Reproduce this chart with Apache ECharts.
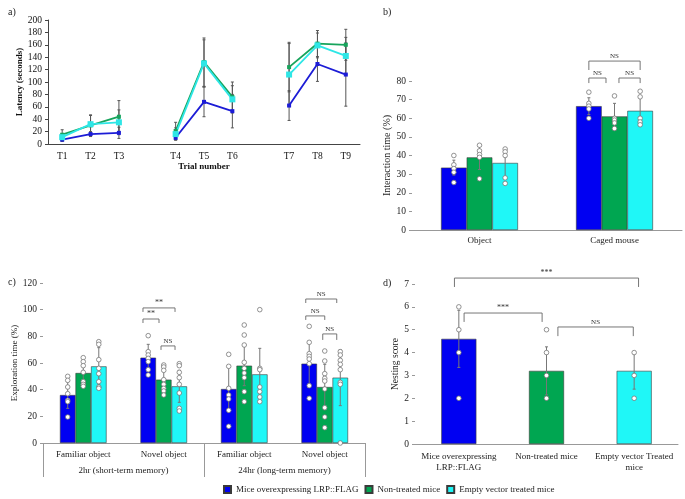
<!DOCTYPE html>
<html>
<head>
<meta charset="utf-8">
<script src="https://cdn.jsdelivr.net/npm/echarts@6/dist/echarts.min.js"></script>
<style>html,body{margin:0;padding:0;background:#fff}#main{width:685px;height:499px}</style>
</head>
<body>
<div id="main"></div>
<script>
var FONT = '"Liberation Serif", "Times New Roman", serif';
var groups = ['Mice overexpressing LRP::FLAG', 'Non-treated mice', 'Empty vector treated mice'];
var barColors = ['#0000f2', '#00a651', '#1ff7f7'];
var lineColors = ['#1c1cd6', '#17a45c', '#2ee6e6'];

// a) latency per trial ('-' = gap between the sessions)
var trials = ['T1', 'T2', 'T3', '', 'T4', 'T5', 'T6', '', 'T7', 'T8', 'T9'];
var latBlue = [7, 16, 18, '-', 10, 68, 53, '-', 62, 129, 112];
var latGreen = [15, 30, 44, '-', 21, 132, 76, '-', 124, 162, 160];
var latCyan = [11, 32, 35, '-', 16, 130, 72, '-', 112, 159, 142];
var latSdBlue = [3, 4, 9, 0, 2, 24, 27, 0, 24, 28, 51];
var latSdGreen = [8, 17, 26, 0, 14, 39, 24, 0, 40, 21, 25];
var latSdCyan = [5, 14, 20, 0, 10, 38, 22, 0, 50, 20, 30];

// b) interaction time (%)
var bCats = ['Object', 'Caged mouse'];
var bBlue = [33.5, 66.5];
var bGreen = [39, 61];
var bCyan = [36, 64];
var bSdBlue = [4, 4.5];
var bSdGreen = [6.5, 7];
var bSdCyan = [7.5, 7];
var bDotsBlue = [[40, 35, 33, 31, 25.5], [74, 68, 66.5, 65, 60]];
var bDotsGreen = [[45.5, 42.5, 40.5, 39, 27.5], [72, 60, 59, 57.5, 54.5]];
var bDotsCyan = [[43.5, 42, 40, 28, 25], [74.5, 71.5, 60, 58, 56.5]];

// c) exploration time (%)
var cCats = ['Familiar object', 'Novel object', 'Familiar object', 'Novel object'];
var cSessions = ['2hr (short-term memory)', '24hr (long-term memory)'];
var cBlue = [36, 64, 40.5, 59.5];
var cGreen = [52.5, 47.5, 58, 42];
var cCyan = [57.5, 42.5, 51.5, 49];
var cSdBlue = [10, 10, 17, 16];
var cSdGreen = [8, 8, 15, 17];
var cSdCyan = [14, 12, 19.5, 21];
var cDotsBlue = [[50, 47, 42, 37, 32, 31, 19.5], [80.5, 68.5, 66, 63.5, 61, 55, 51],
  [66.5, 57.5, 41, 36, 33, 24.5, 12.5], [87.5, 75.5, 67, 65, 63, 59.5, 43, 33.5]];
var cDotsGreen = [[64, 61, 58, 53, 46, 44, 42.5], [58.5, 57, 54.5, 47.5, 44, 41, 39, 36],
  [88.5, 81, 73.5, 60.5, 56, 52.5, 49, 38.5, 31], [69, 61.5, 52, 48.5, 46.5, 40.5, 26.5, 19.5, 11.5]];
var cDotsCyan = [[76, 74, 62.5, 56, 52, 46, 42, 41], [59.5, 58, 53, 49, 44, 37.5, 26, 24],
  [100, 56, 55, 42, 38.5, 34.5, 31], [68.5, 66, 62, 59, 55, 45.5, 44, 0]];

// d) nesting score
var dCats = ['Mice overexpressing\nLRP::FLAG', 'Non-treated mice', 'Empty vector Treated\nmice'];
var dScore = [4.6, 3.2, 3.2];
var dSd = [1.25, 1.05, 0.8];
var dDots = [[6, 5, 4, 2], [5, 4, 3, 2], [4, 3, 2]];

// significance brackets: [cat1, shift1, cat2, shift2, top, legEnd, text] (shift in band widths)
var bBrackets = [
  [1, -0.19, 1, 0.19, 90.7, 85.9, 'NS'],
  [1, -0.19, 1, -0.063, 81.6, 78.9, 'NS'],
  [1, 0.033, 1, 0.19, 81.6, 78.9, 'NS']
];
var cBrackets = [
  [1, -0.258, 1, 0.14, 101.3, 98.3, '**'],
  [1, -0.258, 1, -0.059, 93, 90, '**'],
  [1, -0.034, 1, 0.14, 72.8, 69.8, 'NS'],
  [3, -0.236, 3, 0.149, 108, 105, 'NS'],
  [3, -0.236, 3, 0, 95.3, 92.3, 'NS'],
  [3, -0.025, 3, 0.149, 81.8, 77.3, 'NS']
];
var dBrackets = [
  [0, -0.05, 2, 0.05, 7.26, 6.87, '***'],
  [0, 0.06, 1, -0.05, 5.73, 5.34, '***'],
  [1, 0.13, 2, -0.01, 5.12, 4.72, 'NS']
];

function errData(means, sds) {
  var out = [];
  means.forEach(function (m, i) {
    if (m === '-') return;
    out.push([i, m - sds[i], m + sds[i]]);
  });
  return out;
}

function errSeries(xi, yi, means, sds, shift, color, cap) {
  return {
    type: 'custom', xAxisIndex: xi, yAxisIndex: yi, z: 4, silent: true,
    data: errData(means, sds),
    renderItem: function (params, api) {
      var band = api.size([1, 0])[0];
      var hi = api.coord([api.value(0), api.value(2)]);
      var lo = api.coord([api.value(0), api.value(1)]);
      var x = hi[0] + band * shift;
      var st = { stroke: color, lineWidth: 1 };
      return { type: 'group', children: [
        { type: 'line', shape: { x1: x, y1: hi[1], x2: x, y2: lo[1] }, style: st },
        { type: 'line', shape: { x1: x - cap, y1: hi[1], x2: x + cap, y2: hi[1] }, style: st },
        { type: 'line', shape: { x1: x - cap, y1: lo[1], x2: x + cap, y2: lo[1] }, style: st }
      ] };
    }
  };
}

function dotSeries(xi, yi, dots, shift) {
  var data = [];
  dots.forEach(function (list, i) {
    list.forEach(function (v) { data.push([i, v]); });
  });
  return {
    type: 'custom', xAxisIndex: xi, yAxisIndex: yi, z: 6, silent: true,
    data: data,
    renderItem: function (params, api) {
      var band = api.size([1, 0])[0];
      var p = api.coord([api.value(0), api.value(1)]);
      return { type: 'circle', shape: { cx: p[0] + band * shift, cy: p[1], r: 2.3 },
        style: { fill: '#fff', stroke: '#777', lineWidth: 0.8 } };
    }
  };
}

function bracketSeries(xi, yi, specs) {
  return {
    type: 'custom', xAxisIndex: xi, yAxisIndex: yi, z: 7, silent: true, clip: false,
    data: specs.map(function (s) { return [s[0], s[4]]; }),
    renderItem: function (params, api) {
      var s = specs[params.dataIndex];
      var band = api.size([1, 0])[0];
      var x1 = api.coord([s[0], s[4]])[0] + band * s[1];
      var x2 = api.coord([s[2], s[4]])[0] + band * s[3];
      var yt = api.coord([s[0], s[4]])[1];
      var yl = api.coord([s[0], s[5]])[1];
      var star = s[6] !== 'NS';
      return { type: 'group', children: [
        { type: 'polyline', shape: { points: [[x1, yl], [x1, yt], [x2, yt], [x2, yl]] },
          style: { stroke: '#666', lineWidth: 0.9, fill: null } },
        { type: 'text', style: { text: s[6], x: (x1 + x2) / 2, y: yt - (star ? 1 : 1.5),
          align: 'center', verticalAlign: 'bottom', fill: '#333',
          font: (star ? '8px ' : '7px ') + FONT } }
      ] };
    }
  };
}

function barSeries(name, xi, yi, data, color, width) {
  return {
    type: 'bar', name: name, xAxisIndex: xi, yAxisIndex: yi, data: data,
    barWidth: width, barGap: '0%', z: 2,
    itemStyle: { color: color, borderColor: '#3a3a3a', borderWidth: 0.6 }
  };
}

function lineSeries(name, data, color, size) {
  return {
    type: 'line', name: name, xAxisIndex: 0, yAxisIndex: 0, data: data,
    symbol: 'rect', symbolSize: size, connectNulls: false, z: 5,
    lineStyle: { color: color, width: 1.8 }, itemStyle: { color: color }
  };
}

var lab = { fontFamily: FONT, fontSize: 9, color: '#222' };
var num = { fontFamily: FONT, fontSize: 9.5, color: '#222' };
var grayLine = { lineStyle: { color: '#999', width: 1 } };

var series = [
  // b) bars first so the legend takes its icons from them
  barSeries(groups[0], 1, 1, bBlue, barColors[0], '19%'),
  barSeries(groups[1], 1, 1, bGreen, barColors[1], '19%'),
  barSeries(groups[2], 1, 1, bCyan, barColors[2], '19%'),
  errSeries(1, 1, bBlue, bSdBlue, -0.19, '#777', 1.5),
  errSeries(1, 1, bGreen, bSdGreen, 0, '#777', 1.5),
  errSeries(1, 1, bCyan, bSdCyan, 0.19, '#777', 1.5),
  dotSeries(1, 1, bDotsBlue, -0.19),
  dotSeries(1, 1, bDotsGreen, 0),
  dotSeries(1, 1, bDotsCyan, 0.19),
  bracketSeries(1, 1, bBrackets),

  // c)
  barSeries(groups[0], 2, 2, cBlue, barColors[0], '19.3%'),
  barSeries(groups[1], 2, 2, cGreen, barColors[1], '19.3%'),
  barSeries(groups[2], 2, 2, cCyan, barColors[2], '19.3%'),
  errSeries(2, 2, cBlue, cSdBlue, -0.193, '#777', 1.5),
  errSeries(2, 2, cGreen, cSdGreen, 0, '#777', 1.5),
  errSeries(2, 2, cCyan, cSdCyan, 0.193, '#777', 1.5),
  dotSeries(2, 2, cDotsBlue, -0.193),
  dotSeries(2, 2, cDotsGreen, 0),
  dotSeries(2, 2, cDotsCyan, 0.193),
  bracketSeries(2, 2, cBrackets),

  // d)
  {
    type: 'bar', name: 'Nesting score', xAxisIndex: 4, yAxisIndex: 3, barWidth: '40%', z: 2,
    data: dScore.map(function (v, i) {
      return { value: v, itemStyle: { color: barColors[i] } };
    }),
    itemStyle: { borderColor: '#3a3a3a', borderWidth: 0.6 }
  },
  errSeries(4, 3, dScore, dSd, 0, '#777', 1.5),
  dotSeries(4, 3, dDots, 0),
  bracketSeries(4, 3, dBrackets),

  // a) lines with error bars
  errSeries(0, 0, latBlue, latSdBlue, 0, '#555', 1.5),
  errSeries(0, 0, latGreen, latSdGreen, 0, '#555', 1.5),
  errSeries(0, 0, latCyan, latSdCyan, 0, '#555', 1.5),
  lineSeries(groups[0], latBlue, lineColors[0], 4),
  lineSeries(groups[1], latGreen, lineColors[1], 4),
  lineSeries(groups[2], latCyan, lineColors[2], 6)
];

var chart = echarts.init(document.getElementById('main'));
chart.setOption({
  animation: false,
  backgroundColor: '#fff',
  textStyle: { fontFamily: FONT },
  title: [
    { text: 'a)', left: 3, top: 2 },
    { text: 'b)', left: 378, top: 2 },
    { text: 'c)', left: 3, top: 272 },
    { text: 'd)', left: 378, top: 273 }
  ].map(function (t) {
    t.textStyle = { fontFamily: FONT, fontSize: 10, fontWeight: 'normal', color: '#222' };
    return t;
  }),
  legend: {
    data: groups, left: 218, top: 480, icon: 'rect', itemWidth: 7, itemHeight: 7,
    itemGap: 6, textStyle: { fontFamily: FONT, fontSize: 9, color: '#222' }
  },
  grid: [
    { left: 48, top: 20, width: 312, height: 124 },
    { left: 412, top: 81, width: 270, height: 149 },
    { left: 43, top: 283, width: 322, height: 160 },
    { left: 415, top: 284, width: 263, height: 160 }
  ],
  xAxis: [
    {
      gridIndex: 0, type: 'category', data: trials,
      axisLine: { lineStyle: { color: '#444' } },
      axisTick: { interval: 0, length: 4, lineStyle: { color: '#444' } },
      axisLabel: { interval: 0, margin: 7, fontFamily: FONT, fontSize: 9.5, color: '#111' },
      name: 'Trial number', nameLocation: 'middle', nameGap: 18.5,
      nameTextStyle: { fontFamily: FONT, fontSize: 9, fontWeight: 'bold', color: '#111' }
    },
    {
      gridIndex: 1, type: 'category', data: bCats,
      axisLine: grayLine, axisTick: { length: 3, lineStyle: { color: '#aaa' } },
      axisLabel: Object.assign({ margin: 6 }, lab)
    },
    {
      gridIndex: 2, type: 'category', data: cCats,
      axisLine: grayLine, axisTick: { show: false },
      axisLabel: Object.assign({ margin: 7, interval: 0 }, lab)
    },
    {
      gridIndex: 2, type: 'category', data: cSessions, position: 'bottom',
      axisLine: { show: false },
      axisTick: { show: true, interval: 0, length: 34, lineStyle: { color: '#999' } },
      axisLabel: Object.assign({ margin: 23, interval: 0 }, lab)
    },
    {
      gridIndex: 3, type: 'category', data: dCats,
      axisLine: grayLine, axisTick: { length: 3, lineStyle: { color: '#aaa' } },
      axisLabel: Object.assign({ margin: 7, interval: 0, lineHeight: 11 }, lab)
    }
  ],
  yAxis: [
    {
      gridIndex: 0, type: 'value', min: 0, max: 200, interval: 20, splitLine: { show: false },
      axisLine: { show: true, lineStyle: { color: '#444' } },
      axisTick: { show: true, length: 3, lineStyle: { color: '#444' } },
      axisLabel: { margin: 6, fontFamily: FONT, fontSize: 9.5, color: '#111' },
      name: 'Latency (seconds)', nameLocation: 'middle', nameGap: 21,
      nameTextStyle: { fontFamily: FONT, fontSize: 9, fontWeight: 'bold', color: '#111' }
    },
    {
      gridIndex: 1, type: 'value', min: 0, max: 80, interval: 10, splitLine: { show: false },
      axisLine: { show: false }, axisTick: { show: true, length: 3, lineStyle: { color: '#999' } },
      axisLabel: Object.assign({ margin: 6 }, num),
      name: 'Interaction time (%)', nameLocation: 'middle', nameGap: 20,
      nameTextStyle: { fontFamily: FONT, fontSize: 10, color: '#222' }
    },
    {
      gridIndex: 2, type: 'value', min: 0, max: 120, interval: 20, splitLine: { show: false },
      axisLine: { show: false }, axisTick: { show: true, length: 3, lineStyle: { color: '#999' } },
      axisLabel: Object.assign({ margin: 6 }, num),
      name: 'Exploration time (%)', nameLocation: 'middle', nameGap: 23,
      nameTextStyle: { fontFamily: FONT, fontSize: 9, color: '#222' }
    },
    {
      gridIndex: 3, type: 'value', min: 0, max: 7, interval: 1, splitLine: { show: false },
      axisLine: { show: false }, axisTick: { show: true, length: 3, lineStyle: { color: '#999' } },
      axisLabel: Object.assign({ margin: 6 }, num),
      name: 'Nesting score', nameLocation: 'middle', nameGap: 11,
      nameTextStyle: { fontFamily: FONT, fontSize: 9.5, color: '#222' }
    }
  ],
  series: series
});
</script>
</body>
</html>
